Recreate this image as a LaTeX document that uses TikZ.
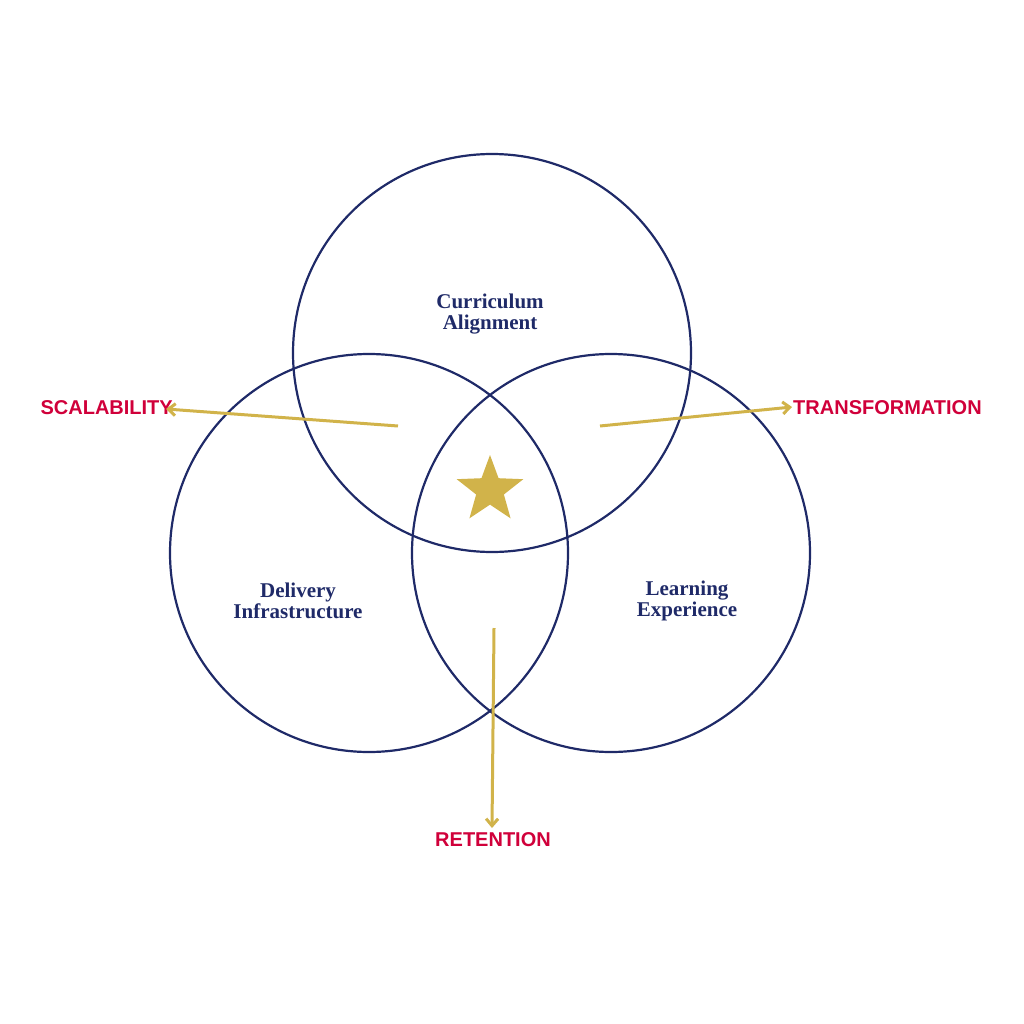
\documentclass[tikz,border=0pt]{standalone}
\usepackage{fontspec}
\setmainfont{Liberation Serif}
\newfontfamily\lab{Liberation Sans}
\usetikzlibrary{shapes.geometric,arrows.meta}
\definecolor{navy}{HTML}{1F2A68}
\definecolor{gold}{HTML}{D1B34A}
\definecolor{redl}{HTML}{D0003A}
\begin{document}
\begin{tikzpicture}[x=1pt,y=-1pt,
  circ/.style={draw=navy,line width=2.2pt},
  ctext/.style={text=navy,font=\fontsize{21}{21}\selectfont\bfseries,align=center},
  arr/.style={draw=gold,line width=3pt,-{Straight Barb[length=7pt,width=12pt]}},
  lbl/.style={text=redl,font=\lab\fontsize{20}{20}\selectfont\bfseries,inner sep=0pt}]
\useasboundingbox (0,0) rectangle (1024,1024);
\draw[circ] (492,353) circle (199);
\draw[circ] (369,553) circle (199);
\draw[circ] (611,553) circle (199);
\node[ctext] (ca) at (490,314) {Curriculum\\Alignment};
\node[ctext] (di) at (298,601) {Delivery\\Infrastructure};
\node[ctext] (le) at (687,601) {Learning\\Experience};
\node[star,star points=5,star point ratio=2.4,fill=gold,minimum size=70pt,inner sep=0pt] (st) at (490,490) {};
\coordinate (a1) at (398,426);
\coordinate (a2) at (600,426);
\coordinate (a3) at (494,628);
\node[lbl,anchor=east] (sc) at (173,408) {SCALABILITY};
\node[lbl,anchor=west] (tr) at (793,408) {TRANSFORMATION};
\node[lbl] (re) at (493,840) {RETENTION};
\draw[arr] (a1) -- (166,409);
\draw[arr] (a2) -- (792,407);
\draw[arr] (a3) -- (492,828);
\end{tikzpicture}
\end{document}
